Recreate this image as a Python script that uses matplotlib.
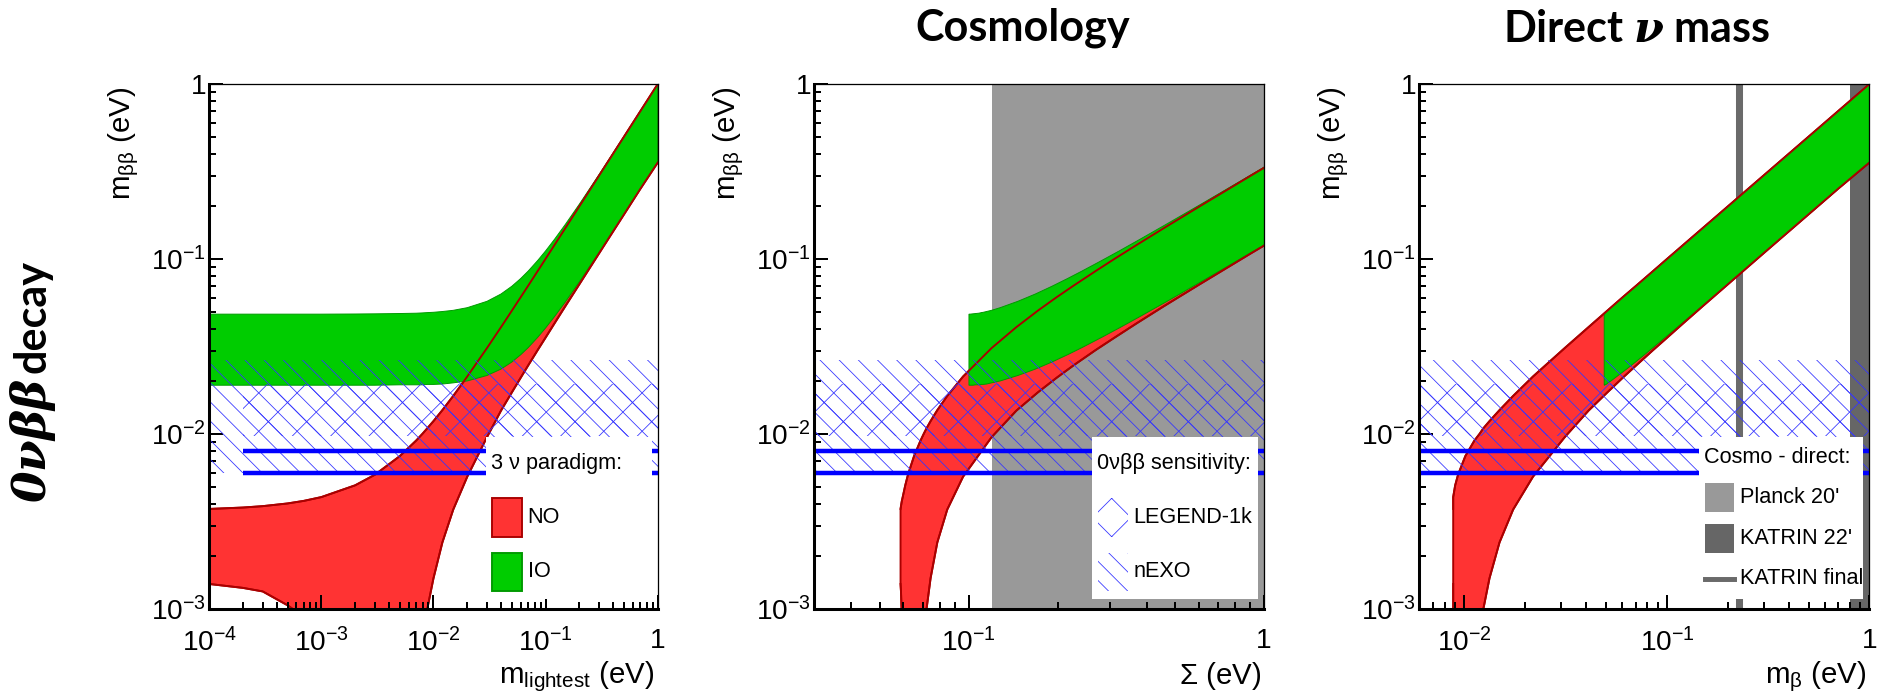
import numpy as np
import matplotlib
matplotlib.use('Agg')
import matplotlib.pyplot as plt
from matplotlib.patches import Rectangle
from matplotlib.lines import Line2D
from matplotlib.ticker import LogLocator, FuncFormatter, NullFormatter

plt.rcParams['font.family'] = ['Liberation Sans', 'DejaVu Sans']
plt.rcParams['mathtext.fontset'] = 'custom'
plt.rcParams['mathtext.rm'] = 'Liberation Sans'
plt.rcParams['mathtext.it'] = 'Liberation Sans:italic'
plt.rcParams['mathtext.bf'] = 'DejaVu Serif:bold:italic'
plt.rcParams['hatch.linewidth'] = 0.5

# lightest neutrino mass (eV) and the 3 sigma envelopes of m_bb (eV)
m_lightest = [1e-4, 2e-4, 3e-4, 5e-4, 7e-4, 1e-3, 2e-3, 3e-3, 5e-3, 7e-3, 8e-3, 8.8e-3,
              0.01, 0.012, 0.015, 0.02, 0.03, 0.04, 0.05, 0.06, 0.07, 0.085, 0.1, 0.12,
              0.15, 0.2, 0.3, 0.5, 0.7, 1.0]
no_upper = [0.00373, 0.0038, 0.00387, 0.00401, 0.00415, 0.00436, 0.00509, 0.00585, 0.00747,
            0.00917, 0.01005, 0.01078, 0.01185, 0.01369, 0.0165, 0.0213, 0.031, 0.0408,
            0.0507, 0.0606, 0.0705, 0.0854, 0.1004, 0.1203, 0.1503, 0.2002, 0.3001, 0.5,
            0.7, 1.0]
no_lower = [0.00139, 0.00132, 0.00126, 0.00105, 0.0009, 0.0007, 0.00017, 1e-5, 1e-5,
            0.0002, 0.0006, 0.001, 0.0015, 0.0024, 0.0037, 0.0057, 0.0096, 0.0136,
            0.0173, 0.021, 0.0247, 0.0302, 0.0356, 0.0429, 0.0538, 0.0718, 0.1079, 0.1799,
            0.252, 0.356]
io_upper = [0.0484, 0.0484, 0.0484, 0.0484, 0.0484, 0.0484, 0.0485, 0.0486, 0.0488,
            0.049, 0.0492, 0.0494, 0.0496, 0.0501, 0.0509, 0.0527, 0.0573, 0.0631,
            0.0699, 0.0774, 0.0854, 0.0981, 0.1113, 0.1296, 0.1578, 0.2059, 0.304, 0.5024,
            0.7017, 1.0]
io_lower = [0.019, 0.019, 0.019, 0.019, 0.019, 0.019, 0.019, 0.019, 0.0191,
            0.0191, 0.0191, 0.0192, 0.0192, 0.0193, 0.0196, 0.0201, 0.0216, 0.0235,
            0.0258, 0.0284, 0.0312, 0.0357, 0.0404, 0.0469, 0.0569, 0.0742, 0.1093, 0.1805,
            0.252, 0.3595]

# same rows expressed as sum of masses and effective beta-decay mass (eV)
sum_no = [0.0587, 0.0588, 0.0589, 0.0591, 0.0593, 0.0597, 0.0609, 0.0622, 0.0652,
          0.0686, 0.0704, 0.0719, 0.0742, 0.0782, 0.0845, 0.0956, 0.1195, 0.1449,
          0.1714, 0.1987, 0.2266, 0.2691, 0.3122, 0.3703, 0.4584, 0.6063, 0.9043, 1.5085,
          2.102, 3.001]
sum_io = [0.1001, 0.1002, 0.1003, 0.1005, 0.1007, 0.101, 0.1021, 0.1032, 0.1055,
          0.108, 0.1093, 0.1103, 0.112, 0.1148, 0.1194, 0.1277, 0.1466, 0.1681,
          0.1914, 0.2162, 0.242, 0.2822, 0.3236, 0.38, 0.4662, 0.6123, 0.9083, 1.505,
          2.104, 3.0025]
mbeta_no = [0.0088, 0.0088, 0.0088, 0.0088, 0.0088, 0.0088, 0.009, 0.0093, 0.0101,
            0.0112, 0.0119, 0.0124, 0.0133, 0.0149, 0.0174, 0.0218, 0.0313, 0.041,
            0.0508, 0.0606, 0.0706, 0.0855, 0.1004, 0.1203, 0.1503, 0.2002, 0.3001, 0.5001,
            0.7, 1.0]
mbeta_io = [0.049, 0.049, 0.049, 0.049, 0.049, 0.049, 0.049, 0.0491, 0.0493,
            0.0495, 0.0496, 0.0498, 0.05, 0.0504, 0.0512, 0.0529, 0.0574, 0.0632,
            0.07, 0.0775, 0.0854, 0.0981, 0.1114, 0.1296, 0.1578, 0.2059, 0.304, 0.5024,
            0.7017, 1.0012]

# 0vbb sensitivities (eV)
legend1k_band = [0.0098, 0.0193]
nexo_band = [0.006, 0.0265]
sens_lines = [0.006, 0.008]
sens_start = 2e-4          # start of LEGEND-1k band on the m_lightest axis

# cosmology / direct limits (eV)
planck_sum = 0.12
katrin_22 = 0.8
katrin_final = 0.2275

x_ranges = [(1e-4, 1.0), (0.03, 1.0), (0.006, 1.0)]
y_range = (1e-3, 1.0)
x_labels = [r'$\mathregular{m_{lightest}}$ (eV)', r'$\mathregular{\Sigma}$ (eV)',
            r'$\mathregular{m_{\beta}}$ (eV)']

RED = '#ff3333'
DARKRED = '#aa0000'
GREEN = '#00cc00'
DARKGREEN = '#009900'
HATCH = '#3535ff'
PLANCK = '#999999'
KATRIN = '#666666'
KEY_FS = 13.5

W, H, DPI = 1878, 692, 115
fig = plt.figure(figsize=(W / DPI, H / DPI), dpi=DPI)
lefts = [209.2, 814.5, 1419.5]
widths = [448.6, 449.5, 450.0]
axes = [fig.add_axes([l / W, 83 / H, w / W, 525 / H]) for l, w in zip(lefts, widths)]


def tick_fmt(v, pos):
    e = int(round(np.log10(v)))
    return '1' if e == 0 else r'$\mathregular{10^{%d}}$' % e


def draw_bands(ax, x_no, x_io):
    ax.fill(list(x_no) + list(x_no)[::-1], no_upper + no_lower[::-1],
            facecolor=RED, edgecolor=DARKRED, lw=1.2, zorder=1)
    ax.fill(list(x_io) + list(x_io)[::-1], io_upper + io_lower[::-1],
            facecolor=GREEN, edgecolor=DARKGREEN, lw=0.6, zorder=1.2)
    ax.plot(x_no, no_upper, color=DARKRED, lw=1.2, zorder=1.4)
    ax.plot(x_no, no_lower, color=DARKRED, lw=1.2, zorder=1.4)


def draw_sensitivity(ax, x0, x_hatch):
    x1 = ax.get_xlim()[1]
    ax.fill_between([x0, x1], nexo_band[0], nexo_band[1], facecolor='none',
                    edgecolor=HATCH, hatch='\\\\', linewidth=0, zorder=1.6)
    ax.fill_between([x_hatch, x1], legend1k_band[0], legend1k_band[1], facecolor='none',
                    edgecolor=HATCH, hatch='x', linewidth=0, zorder=1.6)
    ax.hlines(sens_lines, x_hatch, x1, colors='#0000ff', lw=2.8, zorder=2)


def draw_key(ax, header, entries, box=(0.618, 0.019, 0.988, 0.328)):
    # white box split into equal rows: header first, then one row per entry
    x0, y0, x1, y1 = box
    ax.add_patch(Rectangle((x0, y0), x1 - x0, y1 - y0, transform=ax.transAxes,
                           facecolor='white', edgecolor='none', zorder=2.3))
    row = (y1 - y0) / (len(entries) + 1)
    ax.text(x0 + 0.011, y1 - row / 2, header, transform=ax.transAxes, ha='left',
            va='center', fontsize=KEY_FS, zorder=2.4)
    for i, (label, kind, style) in enumerate(entries):
        yc = y1 - (i + 1.5) * row
        if kind == 'line':
            ax.add_line(Line2D([x0 + 0.013, x0 + 0.078], [yc, yc], transform=ax.transAxes,
                               zorder=2.4, **style))
        else:
            ax.add_patch(Rectangle((x0 + 0.013, yc - 0.36 * row), 0.066, 0.72 * row,
                                   transform=ax.transAxes, zorder=2.4, **style))
        ax.text(x0 + 0.092, yc, label, transform=ax.transAxes, ha='left', va='center',
                fontsize=KEY_FS, zorder=2.4)


for ax, xr, xl in zip(axes, x_ranges, x_labels):
    ax.set_xscale('log')
    ax.set_yscale('log')
    ax.set_xlim(*xr)
    ax.set_ylim(*y_range)
    for a in (ax.xaxis, ax.yaxis):
        a.set_major_locator(LogLocator(base=10, numticks=20))
        a.set_minor_locator(LogLocator(base=10, subs=np.arange(2, 10), numticks=20))
        a.set_major_formatter(FuncFormatter(tick_fmt))
        a.set_minor_formatter(NullFormatter())
    ax.tick_params(which='both', direction='in', top=False, right=False, width=1.25)
    ax.tick_params(which='major', length=8.8, labelsize=17.5)
    ax.tick_params(which='minor', length=4.2)
    ax.tick_params(axis='x', which='major', pad=12)
    ax.tick_params(axis='y', which='major', pad=2)
    for s in ('left', 'bottom'):
        ax.spines[s].set_linewidth(1.9)
    for s in ('top', 'right'):
        ax.spines[s].set_linewidth(0.8)
    ax.set_ylabel(r'$\mathregular{m_{\beta\beta}}$ (eV)', fontsize=18.5, ha='right', va='center')
    ax.yaxis.set_label_coords(-0.19, 0.996)
    ax.set_xlabel(xl, fontsize=18.5, ha='right', va='baseline')
    ax.xaxis.set_label_coords(0.993, -0.142)

ax1, ax2, ax3 = axes

# m_bb vs lightest mass
draw_bands(ax1, m_lightest, m_lightest)
draw_sensitivity(ax1, x_ranges[0][0], sens_start)
draw_key(ax1, '3 ν paradigm:',
         [('NO', 'box', dict(facecolor=RED, edgecolor=DARKRED, lw=1.2)),
          ('IO', 'box', dict(facecolor=GREEN, edgecolor=DARKGREEN, lw=1.2))])

# m_bb vs sum of masses
ax2.axvspan(planck_sum, x_ranges[1][1], color=PLANCK, lw=0, zorder=0.5)
draw_bands(ax2, sum_no, sum_io)
draw_sensitivity(ax2, x_ranges[1][0], x_ranges[1][0])
draw_key(ax2, '0νββ sensitivity:',
         [('LEGEND-1k', 'box', dict(facecolor='white', edgecolor=HATCH, hatch='x', lw=0)),
          ('nEXO', 'box', dict(facecolor='white', edgecolor=HATCH, hatch='\\\\', lw=0))],
         box=(0.618, 0.019, 0.987, 0.328))

# m_bb vs m_beta
ax3.axvspan(katrin_22, x_ranges[2][1], color=KATRIN, lw=0, zorder=0.5)
ax3.axvline(katrin_final, color='#6a6a6a', lw=4.4, zorder=0.5)
draw_bands(ax3, mbeta_no, mbeta_io)
draw_sensitivity(ax3, x_ranges[2][0], x_ranges[2][0])
draw_key(ax3, 'Cosmo - direct:',
         [("Planck 20'", 'box', dict(facecolor=PLANCK, lw=0)),
          ("KATRIN 22'", 'box', dict(facecolor=KATRIN, lw=0)),
          ('KATRIN final', 'line', dict(color='#6a6a6a', lw=3.1))],
         box=(0.621, 0.019, 0.986, 0.328))

fig.text(1022.6 / W, 1 - 41 / H, 'Cosmology', ha='center', va='baseline',
         family='Lato', weight='bold', fontsize=27)
fig.text(1636.5 / W, 1 - 42 / H, r'Direct $\mathbf{\nu}$ mass', ha='center', va='baseline',
         family='Lato', weight='bold', fontsize=27)
# rotated row label: greek part and word drawn on a shared baseline
fig.text(46 / W, 1 - 503 / H, r'$\mathbf{0\nu\beta\beta}$', rotation=90,
         rotation_mode='anchor', ha='left', va='baseline', fontsize=28.5)
fig.text(46 / W, 1 - 373 / H, 'decay', rotation=90, rotation_mode='anchor',
         ha='left', va='baseline', family='Lato', weight='bold', fontsize=27)

fig.savefig('out.png', dpi=DPI)
